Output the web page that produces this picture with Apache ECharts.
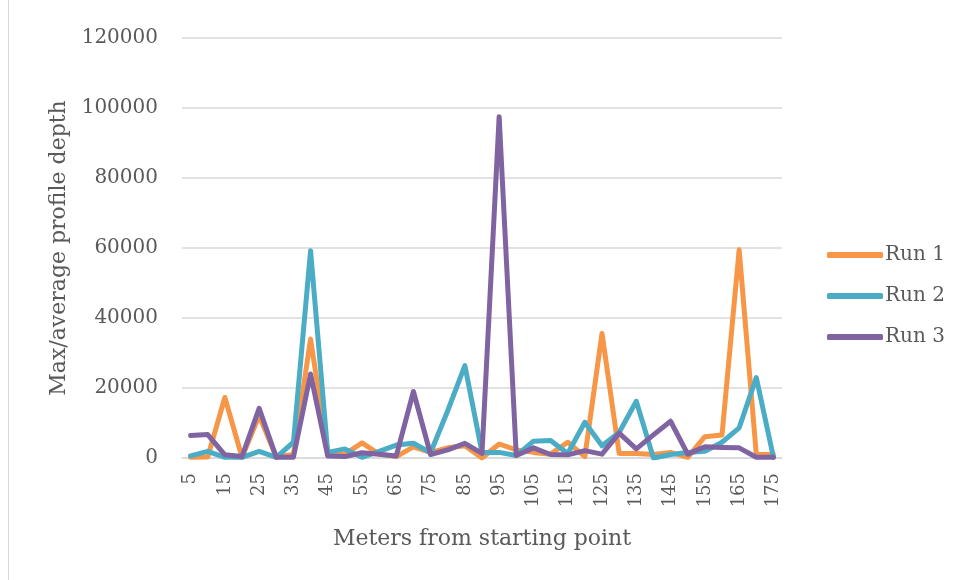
<!DOCTYPE html>
<html>
<head>
<meta charset="utf-8">
<script src="https://cdn.jsdelivr.net/npm/echarts@6/dist/echarts.min.js"></script>
<style>
  html, body { margin: 0; padding: 0; background: #fff; }
  #chart { width: 959px; height: 580px; }
</style>
</head>
<body>
<div id="chart"></div>
<script>
// Distance along the transect (m)
const meters = [5, 10, 15, 20, 25, 30, 35, 40, 45, 50, 55, 60, 65, 70, 75, 80, 85, 90, 95,
                100, 105, 110, 115, 120, 125, 130, 135, 140, 145, 150, 155, 160, 165, 170, 175];

// Max/average profile depth per run
const run1 = [200, 300, 17300, 200, 12100, 300, 1000, 34000, 1600, 1100, 4300, 1100, 400, 3200, 1600, 2900, 3500, 0, 4000,
              2300, 1600, 1100, 4500, 400, 35600, 1300, 1300, 1000, 1600, 200, 6100, 6600, 59500, 1100, 1000];
const run2 = [600, 1900, 200, 200, 1900, 200, 4500, 59200, 1600, 2600, 200, 1900, 3700, 4200, 1500, 13500, 26400, 1600, 1600,
              700, 4800, 5000, 1300, 10200, 3500, 7300, 16200, 0, 1000, 1600, 1900, 4500, 8600, 23000, 200];
const run3 = [6400, 6700, 900, 400, 14200, 200, 200, 24000, 600, 400, 1500, 1100, 600, 19000, 1000, 2300, 4200, 1300, 97500,
              700, 2900, 1000, 900, 2100, 1100, 7100, 2600, 6600, 10500, 1100, 3200, 3000, 2900, 200, 200];

const seriesNames = ['Run 1', 'Run 2', 'Run 3'];
const colors = ['#F79646', '#4BACC6', '#8064A2'];

const FONT = 'DejaVu Serif';
const TEXT = '#595959';

const chart = echarts.init(document.getElementById('chart'));

chart.setOption({
  animation: false,
  color: colors,
  textStyle: { fontFamily: FONT, color: TEXT },
  graphic: [{
    type: 'line',
    shape: { x1: 8.5, y1: 0, x2: 8.5, y2: 580 },
    style: { stroke: '#d9d9d9', lineWidth: 1 }
  }],
  grid: { left: 182, right: 177, top: 38, bottom: 122, containLabel: false },
  legend: {
    orient: 'vertical',
    left: 822,
    top: 240,
    icon: 'roundRect',
    itemWidth: 56,
    itemHeight: 6,
    itemGap: 21,
    textStyle: { fontFamily: FONT, fontSize: 20, color: TEXT, padding: [0, 0, 0, -3] },
    data: seriesNames
  },
  xAxis: {
    type: 'category',
    data: meters,
    boundaryGap: true,
    name: 'Meters from starting point',
    nameLocation: 'middle',
    nameGap: 70,
    nameTextStyle: { fontFamily: FONT, fontSize: 22, color: TEXT },
    axisLine: { lineStyle: { color: '#d9d9d9', width: 1.5 } },
    axisTick: { show: false },
    axisLabel: {
      interval: 1,
      rotate: 90,
      margin: 15,
      fontFamily: FONT,
      fontSize: 18,
      color: TEXT
    }
  },
  yAxis: {
    type: 'value',
    min: 0,
    max: 120000,
    interval: 20000,
    name: 'Max/average profile depth',
    nameLocation: 'middle',
    nameGap: 106,
    nameTextStyle: { fontFamily: FONT, fontSize: 22, color: TEXT },
    axisLine: { show: false },
    axisTick: { show: false },
    axisLabel: {
      margin: 24,
      fontFamily: FONT,
      fontSize: 20,
      color: TEXT,
      formatter: v => String(v)
    },
    splitLine: { lineStyle: { color: '#d9d9d9', width: 1.5 } }
  },
  series: [run1, run2, run3].map((d, i) => ({
    name: seriesNames[i],
    type: 'line',
    data: d,
    symbol: 'none',
    lineStyle: { width: 5, color: colors[i], cap: 'round', join: 'round' }
  }))
});
</script>
</body>
</html>
